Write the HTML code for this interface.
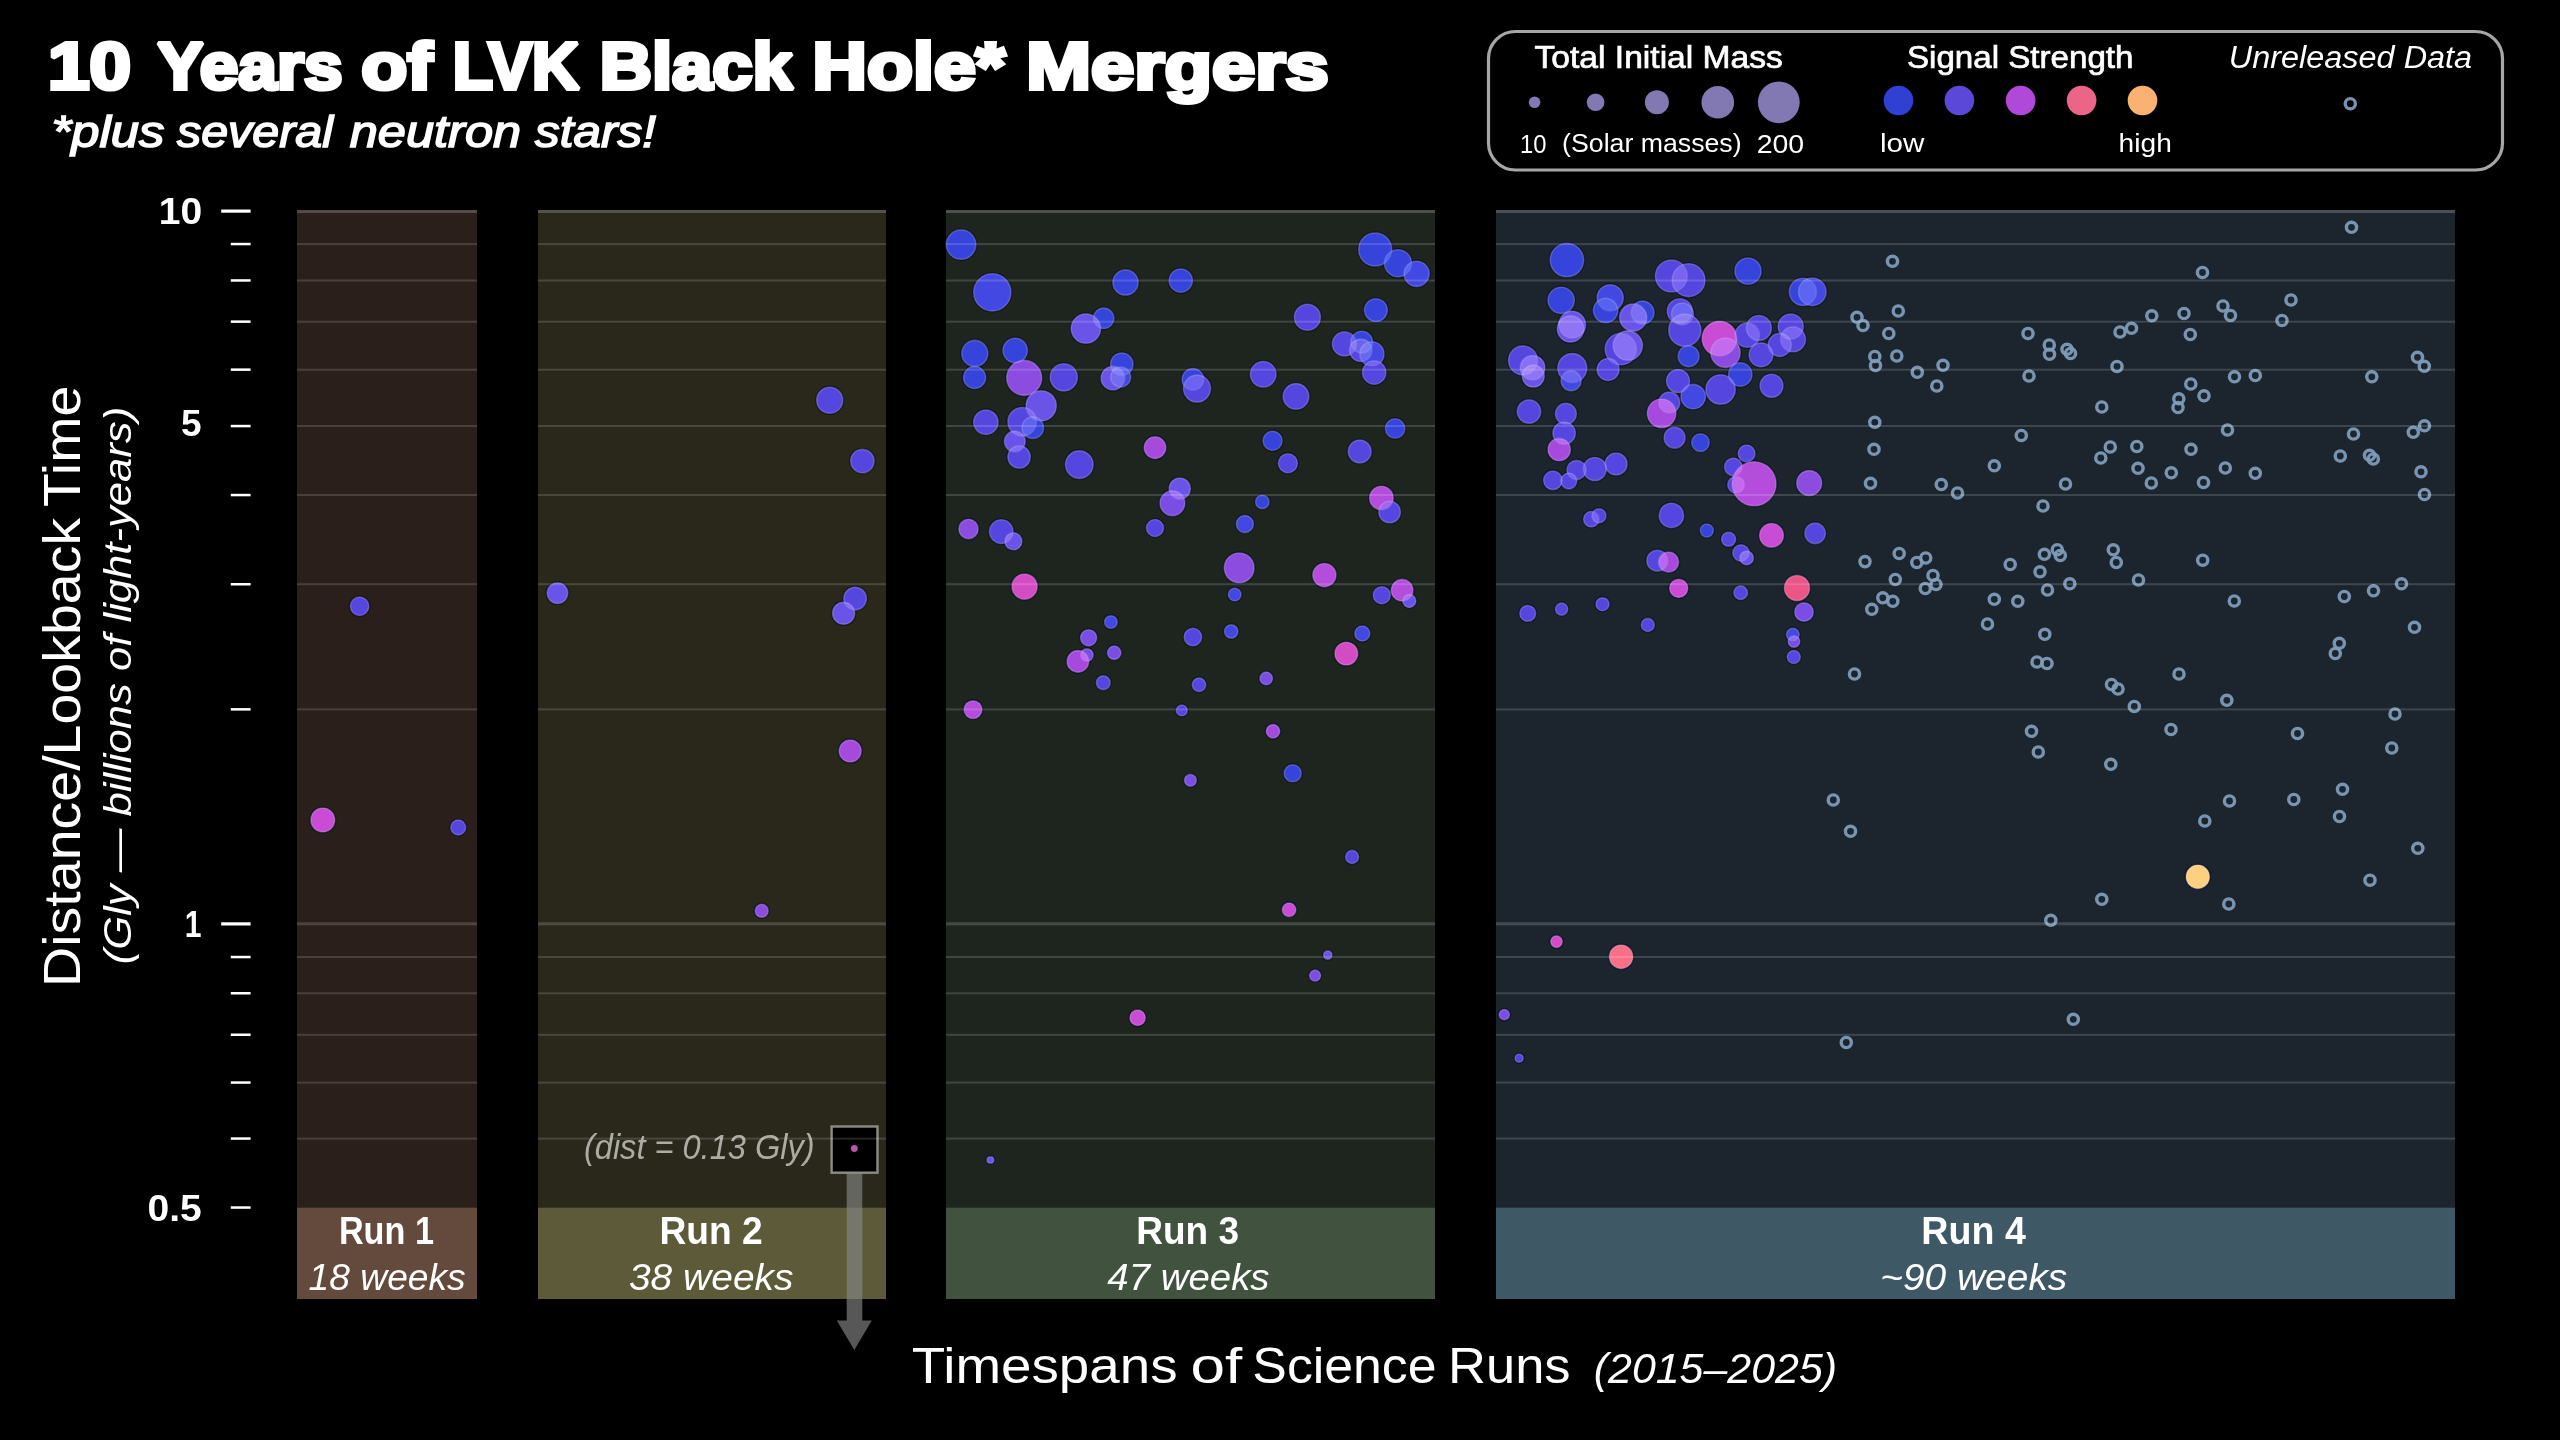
<!DOCTYPE html>
<html><head><meta charset="utf-8"><title>10 Years of LVK Black Hole Mergers</title>
<style>html,body{margin:0;padding:0;background:#000;}body{width:2560px;height:1440px;overflow:hidden;font-family:"Liberation Sans",sans-serif;}svg{display:block}text{font-family:"Liberation Sans",sans-serif;}.d,.e{stroke:#fff;stroke-opacity:.16;stroke-width:1.6}.d{mix-blend-mode:screen}.dg{isolation:isolate;opacity:.6}.r{fill:none;stroke:#7f9dbb;stroke-width:3.4;opacity:.93}</style></head><body>
<svg width="2560" height="1440" viewBox="0 0 2560 1440">
<rect x="0" y="0" width="2560" height="1440" fill="#000"/>
<rect x="297" y="210" width="180" height="997.5" fill="#2a1f1a"/>
<rect x="297" y="1207.5" width="180" height="91.5" fill="#644a3c"/>
<rect x="538" y="210" width="348" height="997.5" fill="#29281b"/>
<rect x="538" y="1207.5" width="348" height="91.5" fill="#5c5a39"/>
<rect x="946" y="210" width="489" height="997.5" fill="#1e251f"/>
<rect x="946" y="1207.5" width="489" height="91.5" fill="#41533e"/>
<rect x="1496" y="210" width="959" height="997.5" fill="#1c252e"/>
<rect x="1496" y="1207.5" width="959" height="91.5" fill="#3e5866"/>
<rect x="221.2" y="209.5" width="29.4" height="3.2" fill="#fff"/>
<rect x="221.2" y="922.3" width="29.4" height="3.2" fill="#fff"/>
<rect x="230.8" y="242.8" width="19.8" height="2.5" fill="#fff"/>
<rect x="230.8" y="279.2" width="19.8" height="2.5" fill="#fff"/>
<rect x="230.8" y="320.4" width="19.8" height="2.5" fill="#fff"/>
<rect x="230.8" y="368.4" width="19.8" height="2.5" fill="#fff"/>
<rect x="230.8" y="424.8" width="19.8" height="2.5" fill="#fff"/>
<rect x="230.8" y="493.8" width="19.8" height="2.5" fill="#fff"/>
<rect x="230.8" y="583.0" width="19.8" height="2.5" fill="#fff"/>
<rect x="230.8" y="708.1" width="19.8" height="2.5" fill="#fff"/>
<rect x="230.8" y="955.8" width="19.8" height="2.5" fill="#fff"/>
<rect x="230.8" y="992.0" width="19.8" height="2.5" fill="#fff"/>
<rect x="230.8" y="1033.5" width="19.8" height="2.5" fill="#fff"/>
<rect x="230.8" y="1081.3" width="19.8" height="2.5" fill="#fff"/>
<rect x="230.8" y="1137.3" width="19.8" height="2.5" fill="#fff"/>
<rect x="230.8" y="1206.3" width="19.8" height="2.5" fill="#fff"/>
<g fill="#fff">
<text x="158.86" y="223.7" font-size="37.6" font-weight="bold" textLength="43.39" lengthAdjust="spacingAndGlyphs">10</text>
<text x="181.09" y="436" font-size="37.6" font-weight="bold" textLength="20.57" lengthAdjust="spacingAndGlyphs">5</text>
<text x="184.72" y="937.2" font-size="37.6" font-weight="bold" textLength="16.74" lengthAdjust="spacingAndGlyphs">1</text>
<text x="147.44" y="1220.7" font-size="37.6" font-weight="bold" textLength="54.24" lengthAdjust="spacingAndGlyphs">0.5</text>
<text x="47.94" y="89.2" font-size="66.2" font-weight="bold" textLength="82.92" lengthAdjust="spacingAndGlyphs" stroke="#fff" stroke-width="4.2" stroke-linejoin="miter" stroke-miterlimit="2">10</text>
<text x="157.19" y="89.2" font-size="66.2" font-weight="bold" textLength="185.33" lengthAdjust="spacingAndGlyphs" stroke="#fff" stroke-width="4.2" stroke-linejoin="miter" stroke-miterlimit="2">Years</text>
<text x="361.28" y="89.2" font-size="66.2" font-weight="bold" textLength="71.23" lengthAdjust="spacingAndGlyphs" stroke="#fff" stroke-width="4.2" stroke-linejoin="miter" stroke-miterlimit="2">of</text>
<text x="452.86" y="89.2" font-size="66.2" font-weight="bold" textLength="126.75" lengthAdjust="spacingAndGlyphs" stroke="#fff" stroke-width="4.2" stroke-linejoin="miter" stroke-miterlimit="2">LVK</text>
<text x="599.72" y="89.2" font-size="66.2" font-weight="bold" textLength="192.98" lengthAdjust="spacingAndGlyphs" stroke="#fff" stroke-width="4.2" stroke-linejoin="miter" stroke-miterlimit="2">Black</text>
<text x="812.62" y="89.2" font-size="66.2" font-weight="bold" textLength="192.48" lengthAdjust="spacingAndGlyphs" stroke="#fff" stroke-width="4.2" stroke-linejoin="miter" stroke-miterlimit="2">Hole*</text>
<text x="1026.25" y="89.2" font-size="66.2" font-weight="bold" textLength="302.62" lengthAdjust="spacingAndGlyphs" stroke="#fff" stroke-width="4.2" stroke-linejoin="miter" stroke-miterlimit="2">Mergers</text>
<text x="51.45" y="147.2" font-size="43.8" font-style="italic" textLength="112.87" lengthAdjust="spacingAndGlyphs" stroke="#fff" stroke-width="1.5" stroke-linejoin="miter" stroke-miterlimit="2">*plus</text>
<text x="176.93" y="147.2" font-size="43.8" font-style="italic" textLength="156.07" lengthAdjust="spacingAndGlyphs" stroke="#fff" stroke-width="1.5" stroke-linejoin="miter" stroke-miterlimit="2">several</text>
<text x="349.77" y="147.2" font-size="43.8" font-style="italic" textLength="171.34" lengthAdjust="spacingAndGlyphs" stroke="#fff" stroke-width="1.5" stroke-linejoin="miter" stroke-miterlimit="2">neutron</text>
<text x="535.13" y="147.2" font-size="43.8" font-style="italic" textLength="120.81" lengthAdjust="spacingAndGlyphs" stroke="#fff" stroke-width="1.5" stroke-linejoin="miter" stroke-miterlimit="2">stars!</text>
<g transform="translate(79.6,982.3) rotate(-90)">
<text x="-4.58" y="0" font-size="52" textLength="469.15" lengthAdjust="spacingAndGlyphs">Distance/Lookback</text>
<text x="475.35" y="0" font-size="52" textLength="121.21" lengthAdjust="spacingAndGlyphs">Time</text>
</g>
<g transform="translate(131.2,962.3) rotate(-90)">
<text x="-2.07" y="0" font-size="38.5" font-style="italic" textLength="557.56" lengthAdjust="spacingAndGlyphs">(Gly — billions of light-years)</text>
</g>
<text x="911.87" y="1382.9" font-size="50.6" textLength="265.71" lengthAdjust="spacingAndGlyphs">Timespans</text>
<text x="1190.46" y="1382.9" font-size="50.6" textLength="51.78" lengthAdjust="spacingAndGlyphs">of</text>
<text x="1252.37" y="1382.9" font-size="50.6" textLength="184.14" lengthAdjust="spacingAndGlyphs">Science</text>
<text x="1448.07" y="1382.9" font-size="50.6" textLength="122.54" lengthAdjust="spacingAndGlyphs">Runs</text>
<text x="1593.76" y="1382.7" font-size="42" font-style="italic" textLength="243.28" lengthAdjust="spacingAndGlyphs">(2015–2025)</text>
<text x="338.89" y="1243.8" font-size="38.3" font-weight="bold" textLength="95.07" lengthAdjust="spacingAndGlyphs">Run 1</text>
<text x="308.57" y="1290" font-size="36.5" font-style="italic" textLength="157.16" lengthAdjust="spacingAndGlyphs">18 weeks</text>
<text x="659.49" y="1243.8" font-size="38.3" font-weight="bold" textLength="103.32" lengthAdjust="spacingAndGlyphs">Run 2</text>
<text x="628.92" y="1290" font-size="36.5" font-style="italic" textLength="164.65" lengthAdjust="spacingAndGlyphs">38 weeks</text>
<text x="1136.3" y="1243.8" font-size="38.3" font-weight="bold" textLength="102.71" lengthAdjust="spacingAndGlyphs">Run 3</text>
<text x="1107.31" y="1290" font-size="36.5" font-style="italic" textLength="162.25" lengthAdjust="spacingAndGlyphs">47 weeks</text>
<text x="1921.36" y="1243.8" font-size="38.3" font-weight="bold" textLength="104.44" lengthAdjust="spacingAndGlyphs">Run 4</text>
<text x="1880.16" y="1290" font-size="36.5" font-style="italic" textLength="187.16" lengthAdjust="spacingAndGlyphs">~90 weeks</text>
<text x="1534.59" y="67.8" font-size="30.6" textLength="248.21" lengthAdjust="spacingAndGlyphs" stroke="#fff" stroke-width="0.7" stroke-linejoin="miter" stroke-miterlimit="2">Total Initial Mass</text>
<text x="1906.96" y="67.8" font-size="30.6" textLength="226.48" lengthAdjust="spacingAndGlyphs" stroke="#fff" stroke-width="0.7" stroke-linejoin="miter" stroke-miterlimit="2">Signal Strength</text>
<text x="2228.87" y="67.8" font-size="30.6" font-style="italic" textLength="243.25" lengthAdjust="spacingAndGlyphs">Unreleased Data</text>
<text x="1520.12" y="152.5" font-size="26" textLength="26.43" lengthAdjust="spacingAndGlyphs">10</text>
<text x="1562.08" y="151.6" font-size="26" textLength="179.55" lengthAdjust="spacingAndGlyphs">(Solar masses)</text>
<text x="1756.68" y="152.5" font-size="26" textLength="47.52" lengthAdjust="spacingAndGlyphs">200</text>
<text x="1879.9" y="152.2" font-size="26" textLength="44.44" lengthAdjust="spacingAndGlyphs">low</text>
<text x="2118.63" y="152.2" font-size="26" textLength="53.14" lengthAdjust="spacingAndGlyphs">high</text>
</g>
<text x="583.95" y="1159.3" font-size="34.3" font-style="italic" fill="#acaca4" textLength="230.64" lengthAdjust="spacingAndGlyphs">(dist = 0.13 Gly)</text>
<path d="M846.7 1173 H862.3 V1320.5 H871.8 L854.3 1350 L836.8 1320.5 H846.7 Z" fill="#868686" fill-opacity=".65"/>
<rect x="831.6" y="1126.5" width="45.9" height="46.2" fill="#000" stroke="#8c8c86" stroke-width="2.4"/>
<circle cx="854.3" cy="1148.5" r="3.4" fill="#b858a6"/>
<g fill="#0c0b30" fill-opacity=".7">
<circle cx="359.6" cy="606.3" r="10.9"/>
<circle cx="322.8" cy="820.0" r="13.6"/>
<circle cx="458.2" cy="827.5" r="9.1"/>
<circle cx="829.7" cy="400.3" r="14.7"/>
<circle cx="862.4" cy="461.1" r="13.4"/>
<circle cx="557.5" cy="593.1" r="12.0"/>
<circle cx="855.1" cy="598.6" r="13.0"/>
<circle cx="843.6" cy="613.2" r="12.7"/>
<circle cx="850.2" cy="751.0" r="12.7"/>
<circle cx="761.7" cy="910.8" r="8.2"/>
<circle cx="961.1" cy="244.6" r="16.4"/>
<circle cx="992.3" cy="292.3" r="20.3"/>
<circle cx="1125.5" cy="282.5" r="14.3"/>
<circle cx="1180.8" cy="280.6" r="13.3"/>
<circle cx="1375.2" cy="249.5" r="18.2"/>
<circle cx="1398.0" cy="263.2" r="15.2"/>
<circle cx="1416.6" cy="273.8" r="14.3"/>
<circle cx="1103.7" cy="318.3" r="11.9"/>
<circle cx="1085.9" cy="328.6" r="16.4"/>
<circle cx="1307.4" cy="317.3" r="14.7"/>
<circle cx="1375.9" cy="310.1" r="13.1"/>
<circle cx="974.8" cy="353.4" r="14.7"/>
<circle cx="1015.2" cy="350.5" r="13.9"/>
<circle cx="974.6" cy="377.5" r="12.7"/>
<circle cx="1024.2" cy="377.9" r="19.2"/>
<circle cx="1063.8" cy="377.3" r="15.3"/>
<circle cx="1121.8" cy="364.2" r="12.9"/>
<circle cx="1112.9" cy="378.2" r="13.5"/>
<circle cx="1120.7" cy="377.0" r="11.7"/>
<circle cx="1192.9" cy="379.4" r="12.5"/>
<circle cx="1197.0" cy="388.6" r="15.2"/>
<circle cx="1263.2" cy="374.3" r="14.5"/>
<circle cx="1296.0" cy="396.4" r="14.5"/>
<circle cx="1344.4" cy="343.9" r="13.7"/>
<circle cx="1361.7" cy="342.2" r="12.6"/>
<circle cx="1360.8" cy="350.3" r="12.9"/>
<circle cx="1371.9" cy="353.9" r="13.8"/>
<circle cx="1374.2" cy="372.5" r="13.4"/>
<circle cx="1041.2" cy="405.8" r="16.8"/>
<circle cx="985.9" cy="422.2" r="13.9"/>
<circle cx="1022.2" cy="421.8" r="16.0"/>
<circle cx="1032.8" cy="427.7" r="12.5"/>
<circle cx="1014.8" cy="441.5" r="12.1"/>
<circle cx="1019.1" cy="457.0" r="12.9"/>
<circle cx="1155.0" cy="447.6" r="12.5"/>
<circle cx="1272.6" cy="440.8" r="11.2"/>
<circle cx="1395.1" cy="428.5" r="11.4"/>
<circle cx="1359.7" cy="451.5" r="13.1"/>
<circle cx="1079.3" cy="464.6" r="15.5"/>
<circle cx="1287.9" cy="463.2" r="11.2"/>
<circle cx="1179.8" cy="488.6" r="12.3"/>
<circle cx="1172.4" cy="503.2" r="14.1"/>
<circle cx="1262.3" cy="501.9" r="8.4"/>
<circle cx="1381.4" cy="498.0" r="13.5"/>
<circle cx="1389.6" cy="512.0" r="12.5"/>
<circle cx="1244.9" cy="524.1" r="10.2"/>
<circle cx="1155.0" cy="528.0" r="10.2"/>
<circle cx="968.5" cy="529.0" r="11.4"/>
<circle cx="1001.3" cy="531.6" r="13.5"/>
<circle cx="1013.4" cy="541.3" r="10.2"/>
<circle cx="1239.2" cy="567.9" r="16.6"/>
<circle cx="1324.4" cy="575.1" r="13.3"/>
<circle cx="1024.6" cy="586.6" r="14.3"/>
<circle cx="1234.7" cy="594.5" r="8.0"/>
<circle cx="1402.1" cy="590.2" r="12.5"/>
<circle cx="1381.8" cy="595.2" r="10.2"/>
<circle cx="1409.3" cy="600.9" r="8.2"/>
<circle cx="1110.9" cy="622.0" r="8.0"/>
<circle cx="1231.2" cy="631.4" r="8.4"/>
<circle cx="1362.3" cy="633.5" r="9.2"/>
<circle cx="1088.6" cy="637.8" r="9.8"/>
<circle cx="1192.9" cy="637.0" r="10.4"/>
<circle cx="1114.2" cy="652.7" r="8.4"/>
<circle cx="1086.9" cy="655.0" r="8.0"/>
<circle cx="1077.9" cy="661.4" r="12.5"/>
<circle cx="1346.3" cy="653.6" r="13.1"/>
<circle cx="1103.3" cy="682.7" r="8.6"/>
<circle cx="1199.0" cy="684.8" r="8.4"/>
<circle cx="1266.2" cy="678.4" r="8.0"/>
<circle cx="973.0" cy="709.6" r="10.6"/>
<circle cx="1181.8" cy="710.4" r="7.1"/>
<circle cx="1273.0" cy="731.3" r="8.4"/>
<circle cx="1292.7" cy="773.3" r="10.2"/>
<circle cx="1190.4" cy="780.3" r="7.6"/>
<circle cx="1352.1" cy="856.9" r="8.2"/>
<circle cx="1289.1" cy="909.8" r="8.5"/>
<circle cx="1327.8" cy="955.1" r="5.9"/>
<circle cx="1315.1" cy="975.6" r="7.2"/>
<circle cx="1137.6" cy="1017.8" r="9.4"/>
<circle cx="990.4" cy="1160.0" r="5.0"/>
<circle cx="1566.9" cy="260.1" r="18.4"/>
<circle cx="1671.4" cy="276.0" r="17.7"/>
<circle cx="1688.6" cy="280.2" r="18.1"/>
<circle cx="1748.0" cy="271.1" r="14.8"/>
<circle cx="1802.9" cy="291.8" r="15.3"/>
<circle cx="1812.3" cy="291.8" r="15.5"/>
<circle cx="1561.2" cy="300.3" r="14.8"/>
<circle cx="1610.2" cy="297.8" r="14.8"/>
<circle cx="1605.6" cy="310.5" r="13.9"/>
<circle cx="1642.6" cy="312.6" r="13.2"/>
<circle cx="1633.2" cy="317.5" r="15.3"/>
<circle cx="1679.8" cy="311.2" r="14.2"/>
<circle cx="1682.4" cy="314.0" r="12.7"/>
<circle cx="1684.8" cy="330.2" r="17.8"/>
<circle cx="1688.6" cy="356.2" r="12.2"/>
<circle cx="1572.2" cy="324.7" r="15.1"/>
<circle cx="1570.5" cy="328.9" r="14.9"/>
<circle cx="1620.8" cy="349.1" r="17.4"/>
<circle cx="1627.8" cy="345.6" r="16.4"/>
<circle cx="1608.1" cy="369.5" r="12.7"/>
<circle cx="1719.5" cy="338.6" r="19.1"/>
<circle cx="1725.5" cy="352.7" r="16.4"/>
<circle cx="1747.3" cy="335.1" r="13.9"/>
<circle cx="1758.9" cy="328.0" r="14.2"/>
<circle cx="1790.7" cy="326.6" r="14.3"/>
<circle cx="1793.0" cy="339.3" r="14.2"/>
<circle cx="1779.7" cy="344.9" r="13.2"/>
<circle cx="1761.0" cy="354.8" r="13.6"/>
<circle cx="1740.3" cy="374.5" r="13.4"/>
<circle cx="1523.0" cy="360.4" r="16.2"/>
<circle cx="1532.6" cy="367.8" r="14.0"/>
<circle cx="1533.3" cy="376.1" r="12.7"/>
<circle cx="1572.3" cy="368.1" r="16.2"/>
<circle cx="1571.1" cy="380.8" r="11.7"/>
<circle cx="1678.0" cy="381.0" r="13.2"/>
<circle cx="1693.2" cy="396.6" r="13.9"/>
<circle cx="1720.6" cy="389.5" r="16.4"/>
<circle cx="1771.5" cy="385.8" r="13.2"/>
<circle cx="1529.0" cy="411.6" r="13.4"/>
<circle cx="1565.9" cy="413.8" r="12.2"/>
<circle cx="1564.1" cy="433.2" r="12.9"/>
<circle cx="1559.2" cy="449.6" r="12.9"/>
<circle cx="1669.3" cy="402.5" r="12.2"/>
<circle cx="1661.6" cy="413.3" r="16.0"/>
<circle cx="1674.6" cy="437.7" r="12.2"/>
<circle cx="1700.5" cy="442.6" r="10.5"/>
<circle cx="1746.6" cy="453.4" r="10.1"/>
<circle cx="1733.3" cy="466.9" r="10.5"/>
<circle cx="1736.1" cy="484.8" r="10.1"/>
<circle cx="1754.1" cy="483.8" r="23.7"/>
<circle cx="1809.2" cy="483.1" r="14.2"/>
<circle cx="1616.1" cy="464.0" r="12.7"/>
<circle cx="1594.8" cy="469.0" r="13.2"/>
<circle cx="1576.5" cy="470.0" r="11.3"/>
<circle cx="1552.9" cy="480.3" r="11.0"/>
<circle cx="1568.8" cy="481.0" r="9.6"/>
<circle cx="1671.4" cy="515.4" r="13.9"/>
<circle cx="1591.3" cy="519.2" r="9.4"/>
<circle cx="1599.0" cy="515.7" r="8.7"/>
<circle cx="1706.8" cy="530.5" r="8.2"/>
<circle cx="1728.6" cy="539.2" r="8.7"/>
<circle cx="1771.5" cy="535.4" r="13.6"/>
<circle cx="1815.1" cy="533.3" r="12.0"/>
<circle cx="1741.0" cy="553.0" r="9.9"/>
<circle cx="1746.6" cy="557.9" r="8.5"/>
<circle cx="1657.3" cy="560.7" r="12.2"/>
<circle cx="1668.6" cy="562.1" r="11.7"/>
<circle cx="1678.7" cy="588.3" r="10.8"/>
<circle cx="1797.0" cy="588.0" r="14.3"/>
<circle cx="1740.7" cy="592.7" r="8.5"/>
<circle cx="1804.0" cy="612.0" r="11.0"/>
<circle cx="1527.7" cy="613.4" r="9.6"/>
<circle cx="1561.6" cy="609.1" r="7.8"/>
<circle cx="1602.5" cy="604.2" r="8.2"/>
<circle cx="1647.8" cy="624.9" r="8.2"/>
<circle cx="1792.8" cy="634.5" r="8.0"/>
<circle cx="1794.0" cy="641.5" r="7.5"/>
<circle cx="1793.8" cy="657.0" r="8.2"/>
<circle cx="1556.5" cy="941.6" r="7.5"/>
<circle cx="1621.1" cy="956.7" r="13.4"/>
<circle cx="1504.3" cy="1014.6" r="6.8"/>
<circle cx="1519.1" cy="1058.2" r="5.7"/>
<circle cx="2197.8" cy="876.8" r="13.4"/>
</g>
<g>
<circle class="e" cx="359.6" cy="606.3" r="9.2" fill="#5646e0"/>
<circle class="e" cx="322.8" cy="820.0" r="11.9" fill="#c84cd4"/>
<circle class="e" cx="458.2" cy="827.5" r="7.4" fill="#5646e0"/>
<circle class="e" cx="829.7" cy="400.3" r="13.0" fill="#5646e0"/>
<circle class="e" cx="862.4" cy="461.1" r="11.7" fill="#5646e0"/>
<circle class="e" cx="557.5" cy="593.1" r="10.3" fill="#6a54e8"/>
<circle class="e" cx="855.1" cy="598.6" r="11.3" fill="#5646e0"/>
<circle class="e" cx="843.6" cy="613.2" r="11.0" fill="#6a54e8"/>
<circle class="e" cx="850.2" cy="751.0" r="11.0" fill="#a64ade"/>
<circle class="e" cx="761.7" cy="910.8" r="6.5" fill="#8c4ce0"/>
<circle class="e" cx="961.1" cy="244.6" r="14.7" fill="#3644dc"/>
<circle class="e" cx="992.3" cy="292.3" r="18.6" fill="#4448e2"/>
<circle class="e" cx="1125.5" cy="282.5" r="12.6" fill="#3644dc"/>
<circle class="e" cx="1180.8" cy="280.6" r="11.6" fill="#3644dc"/>
<circle class="e" cx="1375.2" cy="249.5" r="16.5" fill="#3644dc"/>
<circle class="e" cx="1398.0" cy="263.2" r="13.5" fill="#3644dc"/>
<circle class="e" cx="1416.6" cy="273.8" r="12.6" fill="#4448e2"/>
<circle class="e" cx="1103.7" cy="318.3" r="10.2" fill="#3644dc"/>
<circle class="e" cx="1085.9" cy="328.6" r="14.7" fill="#6a54e8"/>
<circle class="e" cx="1307.4" cy="317.3" r="13.0" fill="#5646e0"/>
<circle class="e" cx="1375.9" cy="310.1" r="11.4" fill="#3644dc"/>
<circle class="e" cx="974.8" cy="353.4" r="13.0" fill="#3644dc"/>
<circle class="e" cx="1015.2" cy="350.5" r="12.2" fill="#3644dc"/>
<circle class="e" cx="974.6" cy="377.5" r="11.0" fill="#3644dc"/>
<circle class="e" cx="1024.2" cy="377.9" r="17.5" fill="#8c4ce0"/>
<circle class="e" cx="1063.8" cy="377.3" r="13.6" fill="#5646e0"/>
<circle class="e" cx="1121.8" cy="364.2" r="11.2" fill="#3644dc"/>
<circle class="e" cx="1112.9" cy="378.2" r="11.8" fill="#6a54e8"/>
<circle class="e" cx="1120.7" cy="377.0" r="10.0" fill="#4448e2"/>
<circle class="e" cx="1192.9" cy="379.4" r="10.8" fill="#3644dc"/>
<circle class="e" cx="1197.0" cy="388.6" r="13.5" fill="#5646e0"/>
<circle class="e" cx="1263.2" cy="374.3" r="12.8" fill="#5646e0"/>
<circle class="e" cx="1296.0" cy="396.4" r="12.8" fill="#5646e0"/>
<circle class="e" cx="1344.4" cy="343.9" r="12.0" fill="#5646e0"/>
<circle class="e" cx="1361.7" cy="342.2" r="10.9" fill="#3644dc"/>
<circle class="e" cx="1360.8" cy="350.3" r="11.2" fill="#5646e0"/>
<circle class="e" cx="1371.9" cy="353.9" r="12.1" fill="#4448e2"/>
<circle class="e" cx="1374.2" cy="372.5" r="11.7" fill="#5646e0"/>
<circle class="e" cx="1041.2" cy="405.8" r="15.1" fill="#6a54e8"/>
<circle class="e" cx="985.9" cy="422.2" r="12.2" fill="#5646e0"/>
<circle class="e" cx="1022.2" cy="421.8" r="14.3" fill="#5646e0"/>
<circle class="e" cx="1032.8" cy="427.7" r="10.8" fill="#3644dc"/>
<circle class="e" cx="1014.8" cy="441.5" r="10.4" fill="#6a54e8"/>
<circle class="e" cx="1019.1" cy="457.0" r="11.2" fill="#5646e0"/>
<circle class="e" cx="1155.0" cy="447.6" r="10.8" fill="#a64ade"/>
<circle class="e" cx="1272.6" cy="440.8" r="9.5" fill="#3644dc"/>
<circle class="e" cx="1395.1" cy="428.5" r="9.7" fill="#3644dc"/>
<circle class="e" cx="1359.7" cy="451.5" r="11.4" fill="#5646e0"/>
<circle class="e" cx="1079.3" cy="464.6" r="13.8" fill="#5646e0"/>
<circle class="e" cx="1287.9" cy="463.2" r="9.5" fill="#5646e0"/>
<circle class="e" cx="1179.8" cy="488.6" r="10.6" fill="#6a54e8"/>
<circle class="e" cx="1172.4" cy="503.2" r="12.4" fill="#7a4ee4"/>
<circle class="e" cx="1262.3" cy="501.9" r="6.7" fill="#3644dc"/>
<circle class="e" cx="1381.4" cy="498.0" r="11.8" fill="#b44cdc"/>
<circle class="e" cx="1389.6" cy="512.0" r="10.8" fill="#5646e0"/>
<circle class="e" cx="1244.9" cy="524.1" r="8.5" fill="#4448e2"/>
<circle class="e" cx="1155.0" cy="528.0" r="8.5" fill="#5646e0"/>
<circle class="e" cx="968.5" cy="529.0" r="9.7" fill="#8c4ce0"/>
<circle class="e" cx="1001.3" cy="531.6" r="11.8" fill="#5646e0"/>
<circle class="e" cx="1013.4" cy="541.3" r="8.5" fill="#6a54e8"/>
<circle class="e" cx="1239.2" cy="567.9" r="14.9" fill="#8c4ce0"/>
<circle class="e" cx="1324.4" cy="575.1" r="11.6" fill="#b44cdc"/>
<circle class="e" cx="1024.6" cy="586.6" r="12.6" fill="#d44cc4"/>
<circle class="e" cx="1234.7" cy="594.5" r="6.3" fill="#4448e2"/>
<circle class="e" cx="1402.1" cy="590.2" r="10.8" fill="#b44cdc"/>
<circle class="e" cx="1381.8" cy="595.2" r="8.5" fill="#5646e0"/>
<circle class="e" cx="1409.3" cy="600.9" r="6.5" fill="#6a54e8"/>
<circle class="e" cx="1110.9" cy="622.0" r="6.3" fill="#4448e2"/>
<circle class="e" cx="1231.2" cy="631.4" r="6.7" fill="#4448e2"/>
<circle class="e" cx="1362.3" cy="633.5" r="7.5" fill="#4448e2"/>
<circle class="e" cx="1088.6" cy="637.8" r="8.1" fill="#7a4ee4"/>
<circle class="e" cx="1192.9" cy="637.0" r="8.7" fill="#5646e0"/>
<circle class="e" cx="1114.2" cy="652.7" r="6.7" fill="#7a4ee4"/>
<circle class="e" cx="1086.9" cy="655.0" r="6.3" fill="#7a4ee4"/>
<circle class="e" cx="1077.9" cy="661.4" r="10.8" fill="#a64ade"/>
<circle class="e" cx="1346.3" cy="653.6" r="11.4" fill="#d44cc4"/>
<circle class="e" cx="1103.3" cy="682.7" r="6.9" fill="#5646e0"/>
<circle class="e" cx="1199.0" cy="684.8" r="6.7" fill="#5646e0"/>
<circle class="e" cx="1266.2" cy="678.4" r="6.3" fill="#7a4ee4"/>
<circle class="e" cx="973.0" cy="709.6" r="8.9" fill="#b44cdc"/>
<circle class="e" cx="1181.8" cy="710.4" r="5.4" fill="#5646e0"/>
<circle class="e" cx="1273.0" cy="731.3" r="6.7" fill="#a64ade"/>
<circle class="e" cx="1292.7" cy="773.3" r="8.5" fill="#3644dc"/>
<circle class="e" cx="1190.4" cy="780.3" r="5.9" fill="#7a4ee4"/>
<circle class="e" cx="1352.1" cy="856.9" r="6.5" fill="#5646e0"/>
<circle class="e" cx="1289.1" cy="909.8" r="6.8" fill="#c84cd4"/>
<circle class="e" cx="1327.8" cy="955.1" r="4.2" fill="#6a54e8"/>
<circle class="e" cx="1315.1" cy="975.6" r="5.5" fill="#7a4ee4"/>
<circle class="e" cx="1137.6" cy="1017.8" r="7.7" fill="#c84cd4"/>
<circle class="e" cx="990.4" cy="1160.0" r="3.3" fill="#6a54e8"/>
<circle class="e" cx="1566.9" cy="260.1" r="16.7" fill="#3644dc"/>
<circle class="e" cx="1671.4" cy="276.0" r="16.0" fill="#5646e0"/>
<circle class="e" cx="1688.6" cy="280.2" r="16.4" fill="#5646e0"/>
<circle class="e" cx="1748.0" cy="271.1" r="13.1" fill="#3644dc"/>
<circle class="e" cx="1802.9" cy="291.8" r="13.6" fill="#3644dc"/>
<circle class="e" cx="1812.3" cy="291.8" r="13.8" fill="#4448e2"/>
<circle class="e" cx="1561.2" cy="300.3" r="13.1" fill="#3644dc"/>
<circle class="e" cx="1610.2" cy="297.8" r="13.1" fill="#4448e2"/>
<circle class="e" cx="1605.6" cy="310.5" r="12.2" fill="#3644dc"/>
<circle class="e" cx="1642.6" cy="312.6" r="11.5" fill="#3644dc"/>
<circle class="e" cx="1633.2" cy="317.5" r="13.6" fill="#6a54e8"/>
<circle class="e" cx="1679.8" cy="311.2" r="12.5" fill="#5646e0"/>
<circle class="e" cx="1682.4" cy="314.0" r="11.0" fill="#4448e2"/>
<circle class="e" cx="1684.8" cy="330.2" r="16.1" fill="#5646e0"/>
<circle class="e" cx="1688.6" cy="356.2" r="10.5" fill="#3644dc"/>
<circle class="e" cx="1572.2" cy="324.7" r="13.4" fill="#6a54e8"/>
<circle class="e" cx="1570.5" cy="328.9" r="13.2" fill="#6a54e8"/>
<circle class="e" cx="1620.8" cy="349.1" r="15.7" fill="#5646e0"/>
<circle class="e" cx="1627.8" cy="345.6" r="14.7" fill="#6a54e8"/>
<circle class="e" cx="1608.1" cy="369.5" r="11.0" fill="#5646e0"/>
<circle class="e" cx="1719.5" cy="338.6" r="17.4" fill="#c84cd4"/>
<circle class="e" cx="1725.5" cy="352.7" r="14.7" fill="#8c4ce0"/>
<circle class="e" cx="1747.3" cy="335.1" r="12.2" fill="#5646e0"/>
<circle class="e" cx="1758.9" cy="328.0" r="12.5" fill="#5646e0"/>
<circle class="e" cx="1790.7" cy="326.6" r="12.6" fill="#5646e0"/>
<circle class="e" cx="1793.0" cy="339.3" r="12.5" fill="#5646e0"/>
<circle class="e" cx="1779.7" cy="344.9" r="11.5" fill="#5646e0"/>
<circle class="e" cx="1761.0" cy="354.8" r="11.9" fill="#5646e0"/>
<circle class="e" cx="1740.3" cy="374.5" r="11.7" fill="#3644dc"/>
<circle class="e" cx="1523.0" cy="360.4" r="14.5" fill="#5646e0"/>
<circle class="e" cx="1532.6" cy="367.8" r="12.3" fill="#6a54e8"/>
<circle class="e" cx="1533.3" cy="376.1" r="11.0" fill="#6a54e8"/>
<circle class="e" cx="1572.3" cy="368.1" r="14.5" fill="#5646e0"/>
<circle class="e" cx="1571.1" cy="380.8" r="10.0" fill="#4448e2"/>
<circle class="e" cx="1678.0" cy="381.0" r="11.5" fill="#5646e0"/>
<circle class="e" cx="1693.2" cy="396.6" r="12.2" fill="#4448e2"/>
<circle class="e" cx="1720.6" cy="389.5" r="14.7" fill="#5646e0"/>
<circle class="e" cx="1771.5" cy="385.8" r="11.5" fill="#5646e0"/>
<circle class="e" cx="1529.0" cy="411.6" r="11.7" fill="#5646e0"/>
<circle class="e" cx="1565.9" cy="413.8" r="10.5" fill="#5646e0"/>
<circle class="e" cx="1564.1" cy="433.2" r="11.2" fill="#5646e0"/>
<circle class="e" cx="1559.2" cy="449.6" r="11.2" fill="#a64ade"/>
<circle class="e" cx="1669.3" cy="402.5" r="10.5" fill="#5646e0"/>
<circle class="e" cx="1661.6" cy="413.3" r="14.3" fill="#a64ade"/>
<circle class="e" cx="1674.6" cy="437.7" r="10.5" fill="#5646e0"/>
<circle class="e" cx="1700.5" cy="442.6" r="8.8" fill="#3644dc"/>
<circle class="e" cx="1746.6" cy="453.4" r="8.4" fill="#5646e0"/>
<circle class="e" cx="1733.3" cy="466.9" r="8.8" fill="#5646e0"/>
<circle class="e" cx="1736.1" cy="484.8" r="8.4" fill="#5646e0"/>
<circle class="e" cx="1754.1" cy="483.8" r="22.0" fill="#b44cdc"/>
<circle class="e" cx="1809.2" cy="483.1" r="12.5" fill="#8c4ce0"/>
<circle class="e" cx="1616.1" cy="464.0" r="11.0" fill="#5646e0"/>
<circle class="e" cx="1594.8" cy="469.0" r="11.5" fill="#5646e0"/>
<circle class="e" cx="1576.5" cy="470.0" r="9.6" fill="#5646e0"/>
<circle class="e" cx="1552.9" cy="480.3" r="9.3" fill="#5646e0"/>
<circle class="e" cx="1568.8" cy="481.0" r="7.9" fill="#5646e0"/>
<circle class="e" cx="1671.4" cy="515.4" r="12.2" fill="#5646e0"/>
<circle class="e" cx="1591.3" cy="519.2" r="7.7" fill="#5646e0"/>
<circle class="e" cx="1599.0" cy="515.7" r="7.0" fill="#5646e0"/>
<circle class="e" cx="1706.8" cy="530.5" r="6.5" fill="#3644dc"/>
<circle class="e" cx="1728.6" cy="539.2" r="7.0" fill="#5646e0"/>
<circle class="e" cx="1771.5" cy="535.4" r="11.9" fill="#c84cd4"/>
<circle class="e" cx="1815.1" cy="533.3" r="10.3" fill="#5646e0"/>
<circle class="e" cx="1741.0" cy="553.0" r="8.2" fill="#5646e0"/>
<circle class="e" cx="1746.6" cy="557.9" r="6.8" fill="#6a54e8"/>
<circle class="e" cx="1657.3" cy="560.7" r="10.5" fill="#5646e0"/>
<circle class="e" cx="1668.6" cy="562.1" r="10.0" fill="#a64ade"/>
<circle class="e" cx="1678.7" cy="588.3" r="9.1" fill="#c84cd4"/>
<circle class="e" cx="1797.0" cy="588.0" r="12.6" fill="#ea5688"/>
<circle class="e" cx="1740.7" cy="592.7" r="6.8" fill="#5646e0"/>
<circle class="e" cx="1804.0" cy="612.0" r="9.3" fill="#7a4ee4"/>
<circle class="e" cx="1527.7" cy="613.4" r="7.9" fill="#5646e0"/>
<circle class="e" cx="1561.6" cy="609.1" r="6.1" fill="#5646e0"/>
<circle class="e" cx="1602.5" cy="604.2" r="6.5" fill="#5646e0"/>
<circle class="e" cx="1647.8" cy="624.9" r="6.5" fill="#5646e0"/>
<circle class="e" cx="1792.8" cy="634.5" r="6.3" fill="#4448e2"/>
<circle class="e" cx="1794.0" cy="641.5" r="5.8" fill="#7a4ee4"/>
<circle class="e" cx="1793.8" cy="657.0" r="6.5" fill="#5646e0"/>
<circle class="e" cx="1556.5" cy="941.6" r="5.8" fill="#d44cc4"/>
<circle class="e" cx="1621.1" cy="956.7" r="11.7" fill="#f87088"/>
<circle class="e" cx="1504.3" cy="1014.6" r="5.1" fill="#7a4ee4"/>
<circle class="e" cx="1519.1" cy="1058.2" r="4.0" fill="#5646e0"/>
<circle class="e" cx="2197.8" cy="876.8" r="11.7" fill="#ffcf80"/>
</g>
<g class="dg">
<circle class="d" cx="359.6" cy="606.3" r="9.2" fill="#5646e0"/>
<circle class="d" cx="322.8" cy="820.0" r="11.9" fill="#c84cd4"/>
<circle class="d" cx="458.2" cy="827.5" r="7.4" fill="#5646e0"/>
<circle class="d" cx="829.7" cy="400.3" r="13.0" fill="#5646e0"/>
<circle class="d" cx="862.4" cy="461.1" r="11.7" fill="#5646e0"/>
<circle class="d" cx="557.5" cy="593.1" r="10.3" fill="#6a54e8"/>
<circle class="d" cx="855.1" cy="598.6" r="11.3" fill="#5646e0"/>
<circle class="d" cx="843.6" cy="613.2" r="11.0" fill="#6a54e8"/>
<circle class="d" cx="850.2" cy="751.0" r="11.0" fill="#a64ade"/>
<circle class="d" cx="761.7" cy="910.8" r="6.5" fill="#8c4ce0"/>
<circle class="d" cx="961.1" cy="244.6" r="14.7" fill="#3644dc"/>
<circle class="d" cx="992.3" cy="292.3" r="18.6" fill="#4448e2"/>
<circle class="d" cx="1125.5" cy="282.5" r="12.6" fill="#3644dc"/>
<circle class="d" cx="1180.8" cy="280.6" r="11.6" fill="#3644dc"/>
<circle class="d" cx="1375.2" cy="249.5" r="16.5" fill="#3644dc"/>
<circle class="d" cx="1398.0" cy="263.2" r="13.5" fill="#3644dc"/>
<circle class="d" cx="1416.6" cy="273.8" r="12.6" fill="#4448e2"/>
<circle class="d" cx="1103.7" cy="318.3" r="10.2" fill="#3644dc"/>
<circle class="d" cx="1085.9" cy="328.6" r="14.7" fill="#6a54e8"/>
<circle class="d" cx="1307.4" cy="317.3" r="13.0" fill="#5646e0"/>
<circle class="d" cx="1375.9" cy="310.1" r="11.4" fill="#3644dc"/>
<circle class="d" cx="974.8" cy="353.4" r="13.0" fill="#3644dc"/>
<circle class="d" cx="1015.2" cy="350.5" r="12.2" fill="#3644dc"/>
<circle class="d" cx="974.6" cy="377.5" r="11.0" fill="#3644dc"/>
<circle class="d" cx="1024.2" cy="377.9" r="17.5" fill="#8c4ce0"/>
<circle class="d" cx="1063.8" cy="377.3" r="13.6" fill="#5646e0"/>
<circle class="d" cx="1121.8" cy="364.2" r="11.2" fill="#3644dc"/>
<circle class="d" cx="1112.9" cy="378.2" r="11.8" fill="#6a54e8"/>
<circle class="d" cx="1120.7" cy="377.0" r="10.0" fill="#4448e2"/>
<circle class="d" cx="1192.9" cy="379.4" r="10.8" fill="#3644dc"/>
<circle class="d" cx="1197.0" cy="388.6" r="13.5" fill="#5646e0"/>
<circle class="d" cx="1263.2" cy="374.3" r="12.8" fill="#5646e0"/>
<circle class="d" cx="1296.0" cy="396.4" r="12.8" fill="#5646e0"/>
<circle class="d" cx="1344.4" cy="343.9" r="12.0" fill="#5646e0"/>
<circle class="d" cx="1361.7" cy="342.2" r="10.9" fill="#3644dc"/>
<circle class="d" cx="1360.8" cy="350.3" r="11.2" fill="#5646e0"/>
<circle class="d" cx="1371.9" cy="353.9" r="12.1" fill="#4448e2"/>
<circle class="d" cx="1374.2" cy="372.5" r="11.7" fill="#5646e0"/>
<circle class="d" cx="1041.2" cy="405.8" r="15.1" fill="#6a54e8"/>
<circle class="d" cx="985.9" cy="422.2" r="12.2" fill="#5646e0"/>
<circle class="d" cx="1022.2" cy="421.8" r="14.3" fill="#5646e0"/>
<circle class="d" cx="1032.8" cy="427.7" r="10.8" fill="#3644dc"/>
<circle class="d" cx="1014.8" cy="441.5" r="10.4" fill="#6a54e8"/>
<circle class="d" cx="1019.1" cy="457.0" r="11.2" fill="#5646e0"/>
<circle class="d" cx="1155.0" cy="447.6" r="10.8" fill="#a64ade"/>
<circle class="d" cx="1272.6" cy="440.8" r="9.5" fill="#3644dc"/>
<circle class="d" cx="1395.1" cy="428.5" r="9.7" fill="#3644dc"/>
<circle class="d" cx="1359.7" cy="451.5" r="11.4" fill="#5646e0"/>
<circle class="d" cx="1079.3" cy="464.6" r="13.8" fill="#5646e0"/>
<circle class="d" cx="1287.9" cy="463.2" r="9.5" fill="#5646e0"/>
<circle class="d" cx="1179.8" cy="488.6" r="10.6" fill="#6a54e8"/>
<circle class="d" cx="1172.4" cy="503.2" r="12.4" fill="#7a4ee4"/>
<circle class="d" cx="1262.3" cy="501.9" r="6.7" fill="#3644dc"/>
<circle class="d" cx="1381.4" cy="498.0" r="11.8" fill="#b44cdc"/>
<circle class="d" cx="1389.6" cy="512.0" r="10.8" fill="#5646e0"/>
<circle class="d" cx="1244.9" cy="524.1" r="8.5" fill="#4448e2"/>
<circle class="d" cx="1155.0" cy="528.0" r="8.5" fill="#5646e0"/>
<circle class="d" cx="968.5" cy="529.0" r="9.7" fill="#8c4ce0"/>
<circle class="d" cx="1001.3" cy="531.6" r="11.8" fill="#5646e0"/>
<circle class="d" cx="1013.4" cy="541.3" r="8.5" fill="#6a54e8"/>
<circle class="d" cx="1239.2" cy="567.9" r="14.9" fill="#8c4ce0"/>
<circle class="d" cx="1324.4" cy="575.1" r="11.6" fill="#b44cdc"/>
<circle class="d" cx="1024.6" cy="586.6" r="12.6" fill="#d44cc4"/>
<circle class="d" cx="1234.7" cy="594.5" r="6.3" fill="#4448e2"/>
<circle class="d" cx="1402.1" cy="590.2" r="10.8" fill="#b44cdc"/>
<circle class="d" cx="1381.8" cy="595.2" r="8.5" fill="#5646e0"/>
<circle class="d" cx="1409.3" cy="600.9" r="6.5" fill="#6a54e8"/>
<circle class="d" cx="1110.9" cy="622.0" r="6.3" fill="#4448e2"/>
<circle class="d" cx="1231.2" cy="631.4" r="6.7" fill="#4448e2"/>
<circle class="d" cx="1362.3" cy="633.5" r="7.5" fill="#4448e2"/>
<circle class="d" cx="1088.6" cy="637.8" r="8.1" fill="#7a4ee4"/>
<circle class="d" cx="1192.9" cy="637.0" r="8.7" fill="#5646e0"/>
<circle class="d" cx="1114.2" cy="652.7" r="6.7" fill="#7a4ee4"/>
<circle class="d" cx="1086.9" cy="655.0" r="6.3" fill="#7a4ee4"/>
<circle class="d" cx="1077.9" cy="661.4" r="10.8" fill="#a64ade"/>
<circle class="d" cx="1346.3" cy="653.6" r="11.4" fill="#d44cc4"/>
<circle class="d" cx="1103.3" cy="682.7" r="6.9" fill="#5646e0"/>
<circle class="d" cx="1199.0" cy="684.8" r="6.7" fill="#5646e0"/>
<circle class="d" cx="1266.2" cy="678.4" r="6.3" fill="#7a4ee4"/>
<circle class="d" cx="973.0" cy="709.6" r="8.9" fill="#b44cdc"/>
<circle class="d" cx="1181.8" cy="710.4" r="5.4" fill="#5646e0"/>
<circle class="d" cx="1273.0" cy="731.3" r="6.7" fill="#a64ade"/>
<circle class="d" cx="1292.7" cy="773.3" r="8.5" fill="#3644dc"/>
<circle class="d" cx="1190.4" cy="780.3" r="5.9" fill="#7a4ee4"/>
<circle class="d" cx="1352.1" cy="856.9" r="6.5" fill="#5646e0"/>
<circle class="d" cx="1289.1" cy="909.8" r="6.8" fill="#c84cd4"/>
<circle class="d" cx="1327.8" cy="955.1" r="4.2" fill="#6a54e8"/>
<circle class="d" cx="1315.1" cy="975.6" r="5.5" fill="#7a4ee4"/>
<circle class="d" cx="1137.6" cy="1017.8" r="7.7" fill="#c84cd4"/>
<circle class="d" cx="990.4" cy="1160.0" r="3.3" fill="#6a54e8"/>
<circle class="d" cx="1566.9" cy="260.1" r="16.7" fill="#3644dc"/>
<circle class="d" cx="1671.4" cy="276.0" r="16.0" fill="#5646e0"/>
<circle class="d" cx="1688.6" cy="280.2" r="16.4" fill="#5646e0"/>
<circle class="d" cx="1748.0" cy="271.1" r="13.1" fill="#3644dc"/>
<circle class="d" cx="1802.9" cy="291.8" r="13.6" fill="#3644dc"/>
<circle class="d" cx="1812.3" cy="291.8" r="13.8" fill="#4448e2"/>
<circle class="d" cx="1561.2" cy="300.3" r="13.1" fill="#3644dc"/>
<circle class="d" cx="1610.2" cy="297.8" r="13.1" fill="#4448e2"/>
<circle class="d" cx="1605.6" cy="310.5" r="12.2" fill="#3644dc"/>
<circle class="d" cx="1642.6" cy="312.6" r="11.5" fill="#3644dc"/>
<circle class="d" cx="1633.2" cy="317.5" r="13.6" fill="#6a54e8"/>
<circle class="d" cx="1679.8" cy="311.2" r="12.5" fill="#5646e0"/>
<circle class="d" cx="1682.4" cy="314.0" r="11.0" fill="#4448e2"/>
<circle class="d" cx="1684.8" cy="330.2" r="16.1" fill="#5646e0"/>
<circle class="d" cx="1688.6" cy="356.2" r="10.5" fill="#3644dc"/>
<circle class="d" cx="1572.2" cy="324.7" r="13.4" fill="#6a54e8"/>
<circle class="d" cx="1570.5" cy="328.9" r="13.2" fill="#6a54e8"/>
<circle class="d" cx="1620.8" cy="349.1" r="15.7" fill="#5646e0"/>
<circle class="d" cx="1627.8" cy="345.6" r="14.7" fill="#6a54e8"/>
<circle class="d" cx="1608.1" cy="369.5" r="11.0" fill="#5646e0"/>
<circle class="d" cx="1719.5" cy="338.6" r="17.4" fill="#c84cd4"/>
<circle class="d" cx="1725.5" cy="352.7" r="14.7" fill="#8c4ce0"/>
<circle class="d" cx="1747.3" cy="335.1" r="12.2" fill="#5646e0"/>
<circle class="d" cx="1758.9" cy="328.0" r="12.5" fill="#5646e0"/>
<circle class="d" cx="1790.7" cy="326.6" r="12.6" fill="#5646e0"/>
<circle class="d" cx="1793.0" cy="339.3" r="12.5" fill="#5646e0"/>
<circle class="d" cx="1779.7" cy="344.9" r="11.5" fill="#5646e0"/>
<circle class="d" cx="1761.0" cy="354.8" r="11.9" fill="#5646e0"/>
<circle class="d" cx="1740.3" cy="374.5" r="11.7" fill="#3644dc"/>
<circle class="d" cx="1523.0" cy="360.4" r="14.5" fill="#5646e0"/>
<circle class="d" cx="1532.6" cy="367.8" r="12.3" fill="#6a54e8"/>
<circle class="d" cx="1533.3" cy="376.1" r="11.0" fill="#6a54e8"/>
<circle class="d" cx="1572.3" cy="368.1" r="14.5" fill="#5646e0"/>
<circle class="d" cx="1571.1" cy="380.8" r="10.0" fill="#4448e2"/>
<circle class="d" cx="1678.0" cy="381.0" r="11.5" fill="#5646e0"/>
<circle class="d" cx="1693.2" cy="396.6" r="12.2" fill="#4448e2"/>
<circle class="d" cx="1720.6" cy="389.5" r="14.7" fill="#5646e0"/>
<circle class="d" cx="1771.5" cy="385.8" r="11.5" fill="#5646e0"/>
<circle class="d" cx="1529.0" cy="411.6" r="11.7" fill="#5646e0"/>
<circle class="d" cx="1565.9" cy="413.8" r="10.5" fill="#5646e0"/>
<circle class="d" cx="1564.1" cy="433.2" r="11.2" fill="#5646e0"/>
<circle class="d" cx="1559.2" cy="449.6" r="11.2" fill="#a64ade"/>
<circle class="d" cx="1669.3" cy="402.5" r="10.5" fill="#5646e0"/>
<circle class="d" cx="1661.6" cy="413.3" r="14.3" fill="#a64ade"/>
<circle class="d" cx="1674.6" cy="437.7" r="10.5" fill="#5646e0"/>
<circle class="d" cx="1700.5" cy="442.6" r="8.8" fill="#3644dc"/>
<circle class="d" cx="1746.6" cy="453.4" r="8.4" fill="#5646e0"/>
<circle class="d" cx="1733.3" cy="466.9" r="8.8" fill="#5646e0"/>
<circle class="d" cx="1736.1" cy="484.8" r="8.4" fill="#5646e0"/>
<circle class="d" cx="1754.1" cy="483.8" r="22.0" fill="#b44cdc"/>
<circle class="d" cx="1809.2" cy="483.1" r="12.5" fill="#8c4ce0"/>
<circle class="d" cx="1616.1" cy="464.0" r="11.0" fill="#5646e0"/>
<circle class="d" cx="1594.8" cy="469.0" r="11.5" fill="#5646e0"/>
<circle class="d" cx="1576.5" cy="470.0" r="9.6" fill="#5646e0"/>
<circle class="d" cx="1552.9" cy="480.3" r="9.3" fill="#5646e0"/>
<circle class="d" cx="1568.8" cy="481.0" r="7.9" fill="#5646e0"/>
<circle class="d" cx="1671.4" cy="515.4" r="12.2" fill="#5646e0"/>
<circle class="d" cx="1591.3" cy="519.2" r="7.7" fill="#5646e0"/>
<circle class="d" cx="1599.0" cy="515.7" r="7.0" fill="#5646e0"/>
<circle class="d" cx="1706.8" cy="530.5" r="6.5" fill="#3644dc"/>
<circle class="d" cx="1728.6" cy="539.2" r="7.0" fill="#5646e0"/>
<circle class="d" cx="1771.5" cy="535.4" r="11.9" fill="#c84cd4"/>
<circle class="d" cx="1815.1" cy="533.3" r="10.3" fill="#5646e0"/>
<circle class="d" cx="1741.0" cy="553.0" r="8.2" fill="#5646e0"/>
<circle class="d" cx="1746.6" cy="557.9" r="6.8" fill="#6a54e8"/>
<circle class="d" cx="1657.3" cy="560.7" r="10.5" fill="#5646e0"/>
<circle class="d" cx="1668.6" cy="562.1" r="10.0" fill="#a64ade"/>
<circle class="d" cx="1678.7" cy="588.3" r="9.1" fill="#c84cd4"/>
<circle class="d" cx="1797.0" cy="588.0" r="12.6" fill="#ea5688"/>
<circle class="d" cx="1740.7" cy="592.7" r="6.8" fill="#5646e0"/>
<circle class="d" cx="1804.0" cy="612.0" r="9.3" fill="#7a4ee4"/>
<circle class="d" cx="1527.7" cy="613.4" r="7.9" fill="#5646e0"/>
<circle class="d" cx="1561.6" cy="609.1" r="6.1" fill="#5646e0"/>
<circle class="d" cx="1602.5" cy="604.2" r="6.5" fill="#5646e0"/>
<circle class="d" cx="1647.8" cy="624.9" r="6.5" fill="#5646e0"/>
<circle class="d" cx="1792.8" cy="634.5" r="6.3" fill="#4448e2"/>
<circle class="d" cx="1794.0" cy="641.5" r="5.8" fill="#7a4ee4"/>
<circle class="d" cx="1793.8" cy="657.0" r="6.5" fill="#5646e0"/>
<circle class="d" cx="1556.5" cy="941.6" r="5.8" fill="#d44cc4"/>
<circle class="d" cx="1621.1" cy="956.7" r="11.7" fill="#f87088"/>
<circle class="d" cx="1504.3" cy="1014.6" r="5.1" fill="#7a4ee4"/>
<circle class="d" cx="1519.1" cy="1058.2" r="4.0" fill="#5646e0"/>
<circle class="d" cx="2197.8" cy="876.8" r="11.7" fill="#ffcf80"/>
</g>
<circle class="r" cx="2351.5" cy="227.3" r="5.1"/>
<circle class="r" cx="1892.5" cy="261.3" r="5.1"/>
<circle class="r" cx="2202.5" cy="272.5" r="5.1"/>
<circle class="r" cx="2291" cy="300" r="5.1"/>
<circle class="r" cx="2223" cy="306" r="5.1"/>
<circle class="r" cx="2230.5" cy="315.5" r="5.1"/>
<circle class="r" cx="2282" cy="320.5" r="5.1"/>
<circle class="r" cx="1898.3" cy="311" r="5.1"/>
<circle class="r" cx="1857" cy="317.3" r="5.1"/>
<circle class="r" cx="1863" cy="325.5" r="5.1"/>
<circle class="r" cx="1888.8" cy="333.5" r="5.1"/>
<circle class="r" cx="2151.8" cy="315.8" r="5.1"/>
<circle class="r" cx="2184" cy="313.5" r="5.1"/>
<circle class="r" cx="2131.5" cy="328.3" r="5.1"/>
<circle class="r" cx="2120" cy="332" r="5.1"/>
<circle class="r" cx="2190.3" cy="334.5" r="5.1"/>
<circle class="r" cx="2028" cy="333.5" r="5.1"/>
<circle class="r" cx="2049.3" cy="345" r="5.1"/>
<circle class="r" cx="2049.5" cy="354.3" r="5.1"/>
<circle class="r" cx="2067" cy="349.3" r="5.1"/>
<circle class="r" cx="2070.5" cy="353.5" r="5.1"/>
<circle class="r" cx="1874.8" cy="356.5" r="5.1"/>
<circle class="r" cx="1875.5" cy="365.5" r="5.1"/>
<circle class="r" cx="1896.8" cy="356" r="5.1"/>
<circle class="r" cx="1917.3" cy="372.3" r="5.1"/>
<circle class="r" cx="1943" cy="365.3" r="5.1"/>
<circle class="r" cx="1936.8" cy="386" r="5.1"/>
<circle class="r" cx="2029" cy="376" r="5.1"/>
<circle class="r" cx="2117" cy="366.5" r="5.1"/>
<circle class="r" cx="2234.5" cy="376.8" r="5.1"/>
<circle class="r" cx="2255.3" cy="375.5" r="5.1"/>
<circle class="r" cx="2417.5" cy="357.3" r="5.1"/>
<circle class="r" cx="2424.3" cy="366.3" r="5.1"/>
<circle class="r" cx="2371.8" cy="376.8" r="5.1"/>
<circle class="r" cx="2190.8" cy="384" r="5.1"/>
<circle class="r" cx="2204" cy="395.8" r="5.1"/>
<circle class="r" cx="2178.8" cy="398.8" r="5.1"/>
<circle class="r" cx="2178" cy="407.5" r="5.1"/>
<circle class="r" cx="2101.8" cy="407" r="5.1"/>
<circle class="r" cx="1874.8" cy="422.3" r="5.1"/>
<circle class="r" cx="2021.3" cy="435.5" r="5.1"/>
<circle class="r" cx="2227.5" cy="430" r="5.1"/>
<circle class="r" cx="2424.5" cy="425.8" r="5.1"/>
<circle class="r" cx="2413.3" cy="432.3" r="5.1"/>
<circle class="r" cx="2353.5" cy="434" r="5.1"/>
<circle class="r" cx="1874" cy="449.3" r="5.1"/>
<circle class="r" cx="2110.3" cy="447" r="5.1"/>
<circle class="r" cx="2136.8" cy="446.5" r="5.1"/>
<circle class="r" cx="2191" cy="449.3" r="5.1"/>
<circle class="r" cx="2100.8" cy="458" r="5.1"/>
<circle class="r" cx="1994.3" cy="465.8" r="5.1"/>
<circle class="r" cx="2138" cy="468.3" r="5.1"/>
<circle class="r" cx="2171.3" cy="472.8" r="5.1"/>
<circle class="r" cx="2225.3" cy="468" r="5.1"/>
<circle class="r" cx="2255.3" cy="473.3" r="5.1"/>
<circle class="r" cx="2340.3" cy="456" r="5.1"/>
<circle class="r" cx="2369.5" cy="455.3" r="5.1"/>
<circle class="r" cx="2373.3" cy="459" r="5.1"/>
<circle class="r" cx="2421" cy="471.8" r="5.1"/>
<circle class="r" cx="1870.5" cy="483.3" r="5.1"/>
<circle class="r" cx="1941.3" cy="484.5" r="5.1"/>
<circle class="r" cx="1957.5" cy="493" r="5.1"/>
<circle class="r" cx="2065.5" cy="484" r="5.1"/>
<circle class="r" cx="2151.3" cy="483" r="5.1"/>
<circle class="r" cx="2203.5" cy="482.5" r="5.1"/>
<circle class="r" cx="2424.5" cy="494.5" r="5.1"/>
<circle class="r" cx="2043" cy="506" r="5.1"/>
<circle class="r" cx="1899.2" cy="553.5" r="5.1"/>
<circle class="r" cx="1925.7" cy="558" r="5.1"/>
<circle class="r" cx="1916.8" cy="562.5" r="5.1"/>
<circle class="r" cx="1865" cy="561.6" r="5.1"/>
<circle class="r" cx="2044.4" cy="554.3" r="5.1"/>
<circle class="r" cx="2057.3" cy="549.7" r="5.1"/>
<circle class="r" cx="2060.3" cy="555.5" r="5.1"/>
<circle class="r" cx="2113.3" cy="549.8" r="5.1"/>
<circle class="r" cx="2116.3" cy="562.5" r="5.1"/>
<circle class="r" cx="2202.7" cy="560.2" r="5.1"/>
<circle class="r" cx="2010.2" cy="564.5" r="5.1"/>
<circle class="r" cx="2040" cy="571.8" r="5.1"/>
<circle class="r" cx="1895.3" cy="579.5" r="5.1"/>
<circle class="r" cx="1933" cy="575.5" r="5.1"/>
<circle class="r" cx="1936" cy="584.5" r="5.1"/>
<circle class="r" cx="1925.3" cy="588.5" r="5.1"/>
<circle class="r" cx="2069.8" cy="583.8" r="5.1"/>
<circle class="r" cx="2138.5" cy="580" r="5.1"/>
<circle class="r" cx="2047.5" cy="590" r="5.1"/>
<circle class="r" cx="1882.8" cy="597.8" r="5.1"/>
<circle class="r" cx="1892.8" cy="601.3" r="5.1"/>
<circle class="r" cx="1871.8" cy="609.3" r="5.1"/>
<circle class="r" cx="1994.3" cy="599.3" r="5.1"/>
<circle class="r" cx="2017.8" cy="601.3" r="5.1"/>
<circle class="r" cx="2234.3" cy="601" r="5.1"/>
<circle class="r" cx="2344.3" cy="596.5" r="5.1"/>
<circle class="r" cx="2373.5" cy="590.8" r="5.1"/>
<circle class="r" cx="2401.5" cy="583.8" r="5.1"/>
<circle class="r" cx="1987.5" cy="624" r="5.1"/>
<circle class="r" cx="2044.8" cy="634.3" r="5.1"/>
<circle class="r" cx="2414.5" cy="627.3" r="5.1"/>
<circle class="r" cx="2339.3" cy="643.3" r="5.1"/>
<circle class="r" cx="2335.3" cy="653.5" r="5.1"/>
<circle class="r" cx="2037" cy="662" r="5.1"/>
<circle class="r" cx="2047" cy="663.5" r="5.1"/>
<circle class="r" cx="1854.5" cy="674" r="5.1"/>
<circle class="r" cx="2179" cy="674" r="5.1"/>
<circle class="r" cx="2111.5" cy="684.5" r="5.1"/>
<circle class="r" cx="2118" cy="689" r="5.1"/>
<circle class="r" cx="2134.3" cy="706.5" r="5.1"/>
<circle class="r" cx="2226.8" cy="700.3" r="5.1"/>
<circle class="r" cx="2395" cy="714" r="5.1"/>
<circle class="r" cx="2031.5" cy="731.3" r="5.1"/>
<circle class="r" cx="2171" cy="729.5" r="5.1"/>
<circle class="r" cx="2297.5" cy="733.5" r="5.1"/>
<circle class="r" cx="2391.8" cy="748" r="5.1"/>
<circle class="r" cx="2038.3" cy="752" r="5.1"/>
<circle class="r" cx="2110.8" cy="764.3" r="5.1"/>
<circle class="r" cx="1833.3" cy="800" r="5.1"/>
<circle class="r" cx="2342.5" cy="789.3" r="5.1"/>
<circle class="r" cx="2293.8" cy="799.5" r="5.1"/>
<circle class="r" cx="2229.5" cy="801" r="5.1"/>
<circle class="r" cx="2339.5" cy="816.5" r="5.1"/>
<circle class="r" cx="2204.8" cy="821" r="5.1"/>
<circle class="r" cx="1850.5" cy="831.3" r="5.1"/>
<circle class="r" cx="2417.8" cy="848.3" r="5.1"/>
<circle class="r" cx="2370" cy="880.2" r="5.1"/>
<circle class="r" cx="2101.8" cy="899.3" r="5.1"/>
<circle class="r" cx="2228.8" cy="904" r="5.1"/>
<circle class="r" cx="2050.8" cy="920.3" r="5.1"/>
<circle class="r" cx="2073.3" cy="1019.3" r="5.1"/>
<circle class="r" cx="1846.3" cy="1042.5" r="5.1"/>
<rect x="297" y="210" width="180" height="3" fill="#fff" fill-opacity=".2"/>
<rect x="297" y="243.1" width="180" height="2" fill="#fff" fill-opacity=".15"/>
<rect x="297" y="279.5" width="180" height="2" fill="#fff" fill-opacity=".15"/>
<rect x="297" y="320.7" width="180" height="2" fill="#fff" fill-opacity=".15"/>
<rect x="297" y="368.7" width="180" height="2" fill="#fff" fill-opacity=".15"/>
<rect x="297" y="425.0" width="180" height="2" fill="#fff" fill-opacity=".15"/>
<rect x="297" y="494.0" width="180" height="2" fill="#fff" fill-opacity=".15"/>
<rect x="297" y="583.2" width="180" height="2" fill="#fff" fill-opacity=".15"/>
<rect x="297" y="708.4" width="180" height="2" fill="#fff" fill-opacity=".15"/>
<rect x="297" y="956.0" width="180" height="2" fill="#fff" fill-opacity=".15"/>
<rect x="297" y="992.3" width="180" height="2" fill="#fff" fill-opacity=".15"/>
<rect x="297" y="1033.8" width="180" height="2" fill="#fff" fill-opacity=".15"/>
<rect x="297" y="1081.6" width="180" height="2" fill="#fff" fill-opacity=".15"/>
<rect x="297" y="1137.6" width="180" height="2" fill="#fff" fill-opacity=".15"/>
<rect x="297" y="922.3" width="180" height="3" fill="#fff" fill-opacity=".17"/>
<rect x="538" y="210" width="348" height="3" fill="#fff" fill-opacity=".2"/>
<rect x="538" y="243.1" width="348" height="2" fill="#fff" fill-opacity=".15"/>
<rect x="538" y="279.5" width="348" height="2" fill="#fff" fill-opacity=".15"/>
<rect x="538" y="320.7" width="348" height="2" fill="#fff" fill-opacity=".15"/>
<rect x="538" y="368.7" width="348" height="2" fill="#fff" fill-opacity=".15"/>
<rect x="538" y="425.0" width="348" height="2" fill="#fff" fill-opacity=".15"/>
<rect x="538" y="494.0" width="348" height="2" fill="#fff" fill-opacity=".15"/>
<rect x="538" y="583.2" width="348" height="2" fill="#fff" fill-opacity=".15"/>
<rect x="538" y="708.4" width="348" height="2" fill="#fff" fill-opacity=".15"/>
<rect x="538" y="956.0" width="348" height="2" fill="#fff" fill-opacity=".15"/>
<rect x="538" y="992.3" width="348" height="2" fill="#fff" fill-opacity=".15"/>
<rect x="538" y="1033.8" width="348" height="2" fill="#fff" fill-opacity=".15"/>
<rect x="538" y="1081.6" width="348" height="2" fill="#fff" fill-opacity=".15"/>
<rect x="538" y="1137.6" width="348" height="2" fill="#fff" fill-opacity=".15"/>
<rect x="538" y="922.3" width="348" height="3" fill="#fff" fill-opacity=".17"/>
<rect x="946" y="210" width="489" height="3" fill="#fff" fill-opacity=".2"/>
<rect x="946" y="243.1" width="489" height="2" fill="#fff" fill-opacity=".15"/>
<rect x="946" y="279.5" width="489" height="2" fill="#fff" fill-opacity=".15"/>
<rect x="946" y="320.7" width="489" height="2" fill="#fff" fill-opacity=".15"/>
<rect x="946" y="368.7" width="489" height="2" fill="#fff" fill-opacity=".15"/>
<rect x="946" y="425.0" width="489" height="2" fill="#fff" fill-opacity=".15"/>
<rect x="946" y="494.0" width="489" height="2" fill="#fff" fill-opacity=".15"/>
<rect x="946" y="583.2" width="489" height="2" fill="#fff" fill-opacity=".15"/>
<rect x="946" y="708.4" width="489" height="2" fill="#fff" fill-opacity=".15"/>
<rect x="946" y="956.0" width="489" height="2" fill="#fff" fill-opacity=".15"/>
<rect x="946" y="992.3" width="489" height="2" fill="#fff" fill-opacity=".15"/>
<rect x="946" y="1033.8" width="489" height="2" fill="#fff" fill-opacity=".15"/>
<rect x="946" y="1081.6" width="489" height="2" fill="#fff" fill-opacity=".15"/>
<rect x="946" y="1137.6" width="489" height="2" fill="#fff" fill-opacity=".15"/>
<rect x="946" y="922.3" width="489" height="3" fill="#fff" fill-opacity=".17"/>
<rect x="1496" y="210" width="959" height="3" fill="#fff" fill-opacity=".2"/>
<rect x="1496" y="243.1" width="959" height="2" fill="#fff" fill-opacity=".15"/>
<rect x="1496" y="279.5" width="959" height="2" fill="#fff" fill-opacity=".15"/>
<rect x="1496" y="320.7" width="959" height="2" fill="#fff" fill-opacity=".15"/>
<rect x="1496" y="368.7" width="959" height="2" fill="#fff" fill-opacity=".15"/>
<rect x="1496" y="425.0" width="959" height="2" fill="#fff" fill-opacity=".15"/>
<rect x="1496" y="494.0" width="959" height="2" fill="#fff" fill-opacity=".15"/>
<rect x="1496" y="583.2" width="959" height="2" fill="#fff" fill-opacity=".15"/>
<rect x="1496" y="708.4" width="959" height="2" fill="#fff" fill-opacity=".15"/>
<rect x="1496" y="956.0" width="959" height="2" fill="#fff" fill-opacity=".15"/>
<rect x="1496" y="992.3" width="959" height="2" fill="#fff" fill-opacity=".15"/>
<rect x="1496" y="1033.8" width="959" height="2" fill="#fff" fill-opacity=".15"/>
<rect x="1496" y="1081.6" width="959" height="2" fill="#fff" fill-opacity=".15"/>
<rect x="1496" y="1137.6" width="959" height="2" fill="#fff" fill-opacity=".15"/>
<rect x="1496" y="922.3" width="959" height="3" fill="#fff" fill-opacity=".17"/>
<rect x="1488.5" y="31.5" width="1014" height="138.5" rx="27" ry="27" fill="none" stroke="#a6a6a6" stroke-width="3.2"/>
<circle cx="1534.6" cy="102.3" r="5.8" fill="#8278b2"/>
<circle cx="1595.6" cy="102.3" r="8.8" fill="#8278b2"/>
<circle cx="1656.9" cy="102.3" r="12" fill="#8278b2"/>
<circle cx="1717.8" cy="102.3" r="16.3" fill="#8278b2"/>
<circle cx="1778.8" cy="102.3" r="20.9" fill="#8278b2"/>
<circle cx="1898.5" cy="100.5" r="14.8" fill="#3040d2"/>
<circle cx="1959.4" cy="100.5" r="14.8" fill="#5c48d8"/>
<circle cx="2020.6" cy="100.5" r="14.8" fill="#b048d8"/>
<circle cx="2081.6" cy="100.5" r="14.8" fill="#ec6488"/>
<circle cx="2142.5" cy="100.5" r="14.8" fill="#f9b272"/>
<circle class="r" cx="2350.3" cy="103.7" r="5.1"/>
</svg></body></html>
